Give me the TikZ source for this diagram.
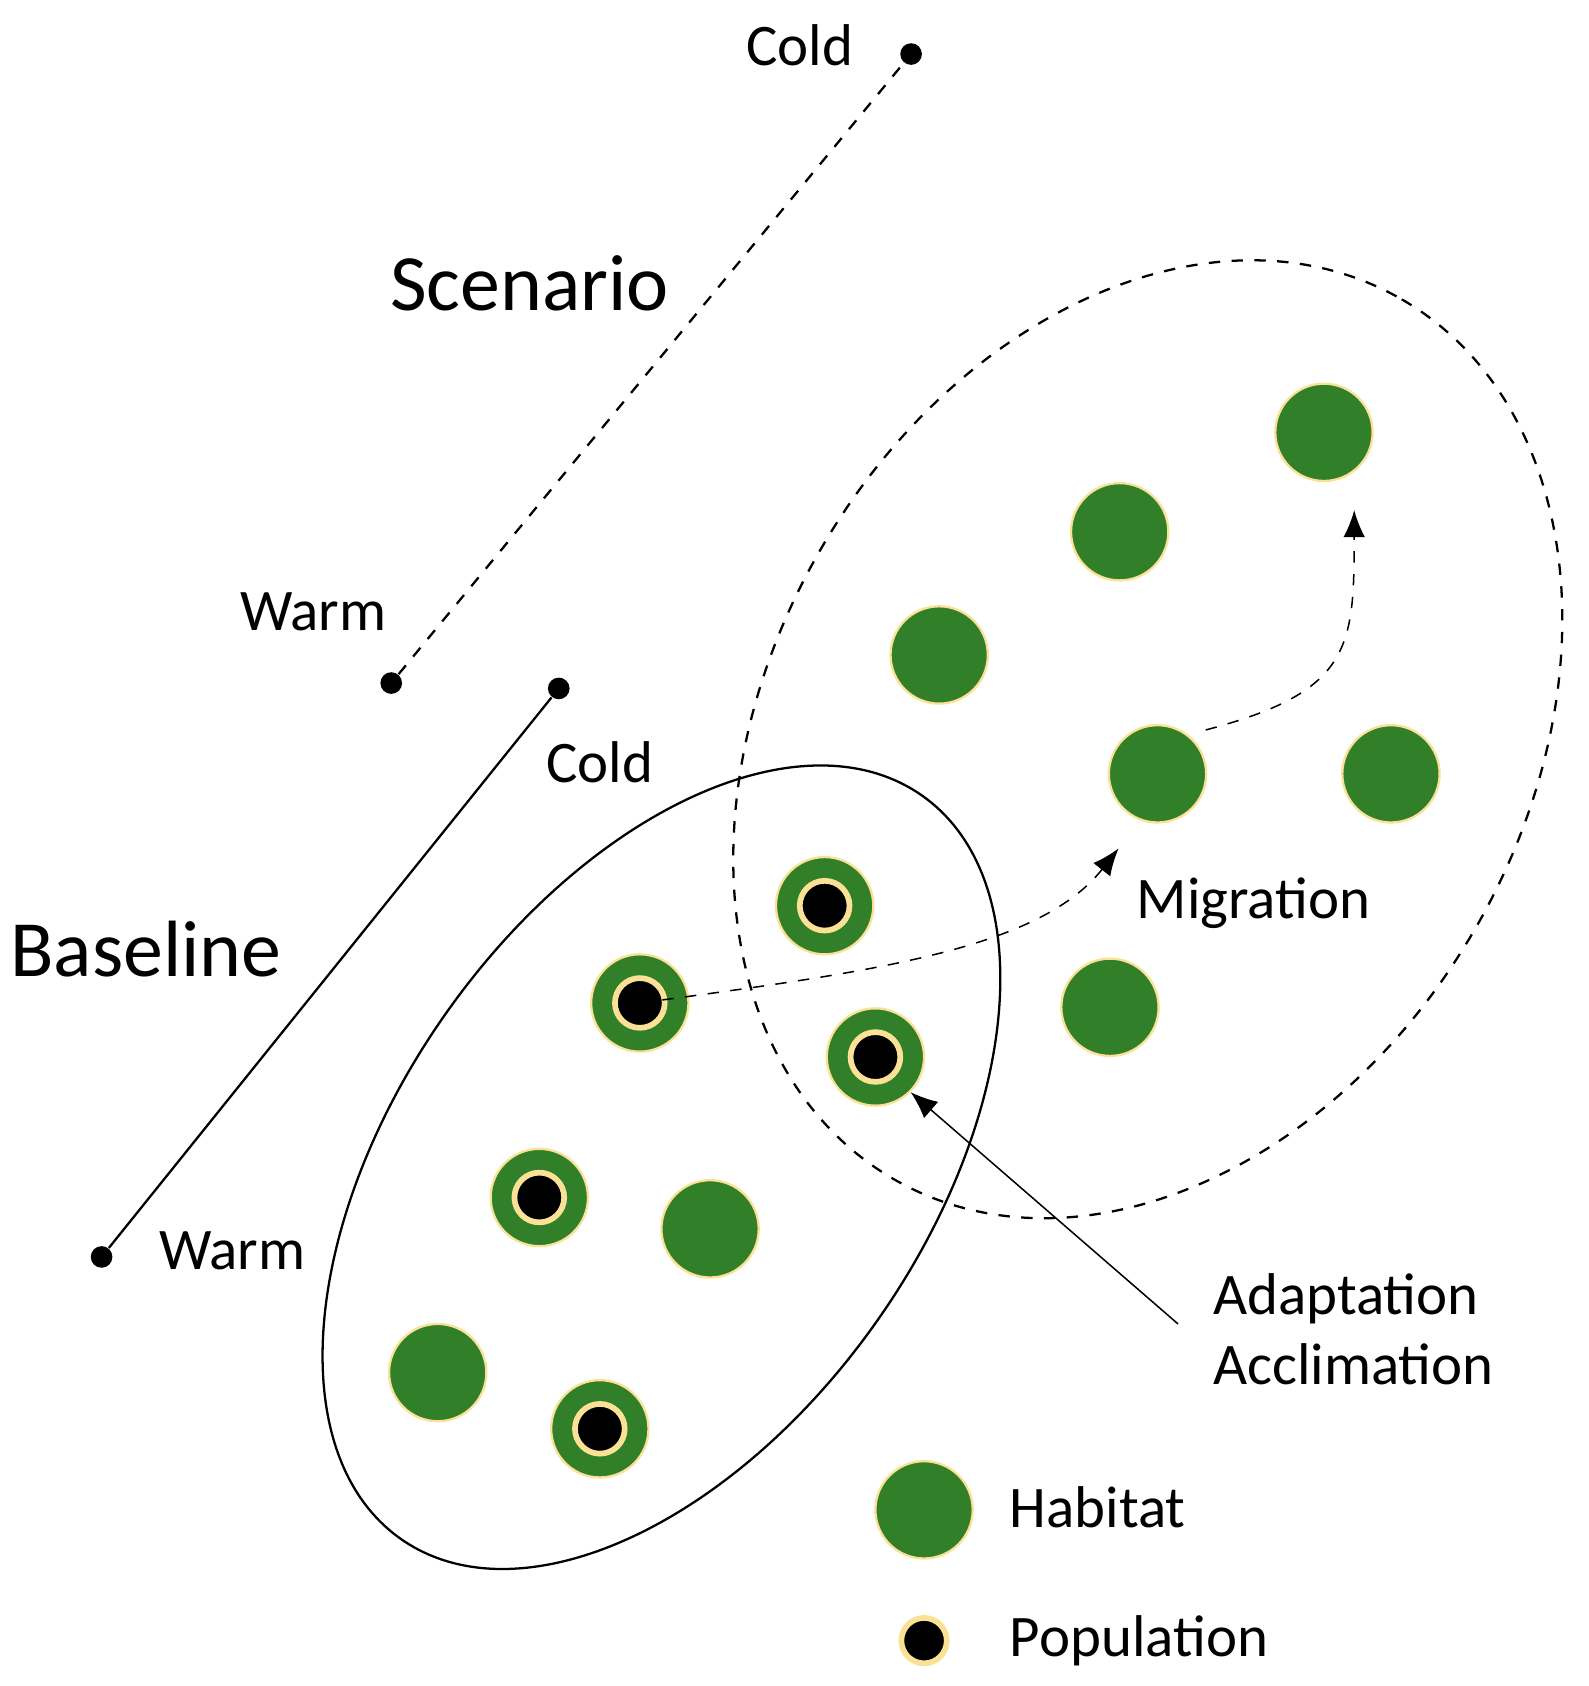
\documentclass[tikz,border=0pt]{standalone}
\usepackage{fontspec}
\setmainfont{Carlito}
\usetikzlibrary{positioning,arrows.meta}
\definecolor{hab}{RGB}{49,128,41}
\definecolor{rim}{RGB}{250,225,150}
\tikzset{
  habitat/.style={circle,fill=hab,draw=rim,line width=0.6pt,minimum size=0.9cm,inner sep=0pt},
  popul/.style={circle,fill=black,draw=rim,line width=1.5pt,minimum size=0.46cm,inner sep=0pt},
  pt/.style={circle,fill=black,minimum size=0.2cm,inner sep=0pt},
  lbl/.style={font=\fontsize{15.5}{18.5}\selectfont},
  big/.style={font=\fontsize{21}{25}\selectfont},
  mig/.style={dashed,-{Latex[length=2.5mm,width=2mm]}}
}
\begin{document}
\begin{tikzpicture}[x=0.01cm,y=-0.01cm]
\useasboundingbox (0,0) rectangle (1470,1560);
% scenario axis
\node[pt] (sc) at (843,50) {};
\node[pt] (sw) at (362,632) {};
\draw[dashed,semithick] (sw) -- (sc);
\node[lbl] at (740,42) {Cold};
\node[lbl] at (290,566) {Warm};
\node[big] at (490,262) {Scenario};
% baseline axis
\node[pt] (bc) at (517,637) {};
\node[pt] (bw) at (94,1163) {};
\draw[semithick] (bw) -- (bc);
\node[lbl] at (555,705) {Cold};
\node[lbl] at (215,1157) {Warm};
\node[big] at (135,878) {Baseline};
% ranges
\draw[semithick] (612,1080) ellipse[x radius=420,y radius=245,rotate=55];
\draw[semithick,dashed] (1062,684) ellipse[x radius=470,y radius=350,rotate=60];
% habitats
\foreach \x/\y [count=\i] in {1225/400,1036/492,869/606,1071/716,1287/716,1027/932,657/1137,405/1270}
  \node[habitat] (h\i) at (\x,\y) {};
% populations
\foreach \x/\y [count=\i] in {763/838,592/928,810/978,499/1108,555/1322} {
  \node[habitat] (p\i) at (\x,\y) {};
  \node[popul] at (p\i) {};
}
% arrows
\coordinate (m1) at (1035,785);
\coordinate (m2) at (1253,472);
\coordinate (ad) at (1090,1225);
\draw[mig] (p2.center) .. controls (800,900) and (960,880) .. (m1);
\draw[mig] (h4.north east) ++(12,-8) .. controls (1250,640) and (1253,600) .. (m2);
\draw[-{Latex[length=2.5mm,width=2mm]}] (ad) -- (p3.south east);
\node[lbl] at (1160,836) {Migration};
\node[lbl,align=left,anchor=west] at (1110,1230) {Adaptation\\Acclimation};
% legend
\node[habitat] (lh) at (855,1397) {};
\node[popul,minimum size=0.42cm] (lp) at (855,1518) {};
\node[lbl,anchor=west] at (922,1395) {Habitat};
\node[lbl,anchor=west] at (922,1518) {Population};
\end{tikzpicture}
\end{document}
